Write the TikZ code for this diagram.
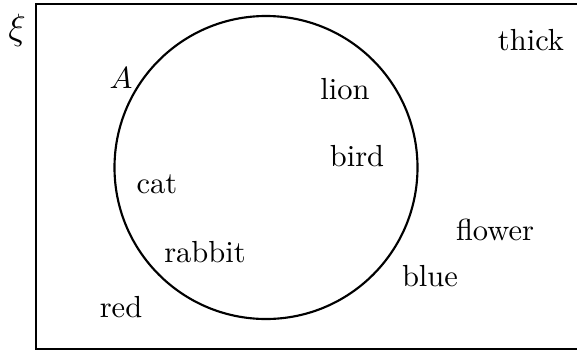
\documentclass[tikz,border=0pt]{standalone}
\begin{document}
\begin{tikzpicture}[x=0.328pt,y=-0.328pt,
  lbl/.style={inner sep=0pt},
  frame/.style={draw,line width=0.7pt}]
\useasboundingbox (0,0) rectangle (577,354);
\clip (0,0) rectangle (577,354);
\draw[frame] (36,4) rectangle (590,349);
\draw[frame] (266,167.5) circle[radius=151.5*0.328pt];
\node[lbl] (xi) at (17,30) {\large$\xi$};
\node[lbl] (A) at (121,78) {$A$};
\node[lbl] (thick) at (531,40.5) {thick};
\node[lbl] (lion) at (345,89) {lion};
\node[lbl] (bird) at (357,156) {bird};
\node[lbl] (cat) at (157,184) {cat};
\node[lbl] (rabbit) at (205,252.5) {rabbit};
\node[lbl] (red) at (121,307.5) {red};
\node[lbl] (blue) at (430,276.5) {blue};
\node[lbl] (flower) at (495,229.5) {flower};
\end{tikzpicture}
\end{document}
